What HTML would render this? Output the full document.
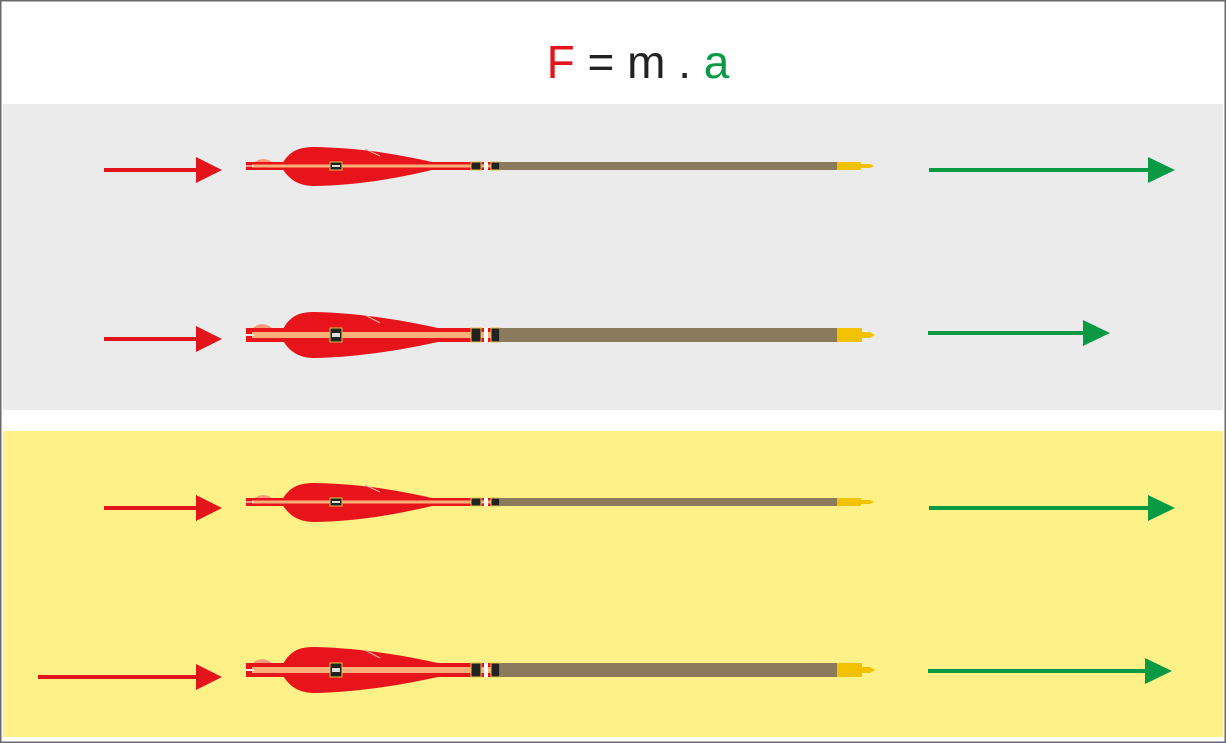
<!DOCTYPE html>
<html><head><meta charset="utf-8"><style>
html,body{margin:0;padding:0;background:#fff}
svg{display:block}
</style></head><body>
<svg width="1226" height="743" viewBox="0 0 1226 743" xmlns="http://www.w3.org/2000/svg">
<rect x="0" y="0" width="1226" height="743" fill="#fff"/>
<rect x="0.5" y="0.5" width="1225" height="742" fill="none" stroke="#6a6a6a" stroke-width="2"/>
<rect x="3" y="104" width="1220" height="306" fill="#ebebeb"/>
<rect x="3" y="431" width="1220" height="306" fill="#fdf188"/>
<text x="638" y="78" text-anchor="middle" font-family="Liberation Sans, sans-serif" font-size="46"><tspan fill="#e3141b">F</tspan><tspan fill="#222"> = m . </tspan><tspan fill="#0a9a44">a</tspan></text>

<defs>
<g id="thin">
  <path d="M282,-2 C290,-16 300,-19 315,-19 C360,-18 400,-12 440,-2 L440,2 C400,12 360,19 315,20 C300,20 290,15 282,2 Z" fill="#e8141b"/>
  <line x1="365" y1="-17" x2="380" y2="-10" stroke="#f7b3a8" stroke-width="1"/>
  <path d="M255,-4 C260,-8 266,-8 272,-4 Z" fill="#f39a7a"/>
  <rect x="246" y="-4" width="254" height="8" fill="#e8141b"/>
  <rect x="252" y="-1.5" width="248" height="3" fill="#f7b07a"/>
  <rect x="246" y="-0.6" width="8" height="1.2" fill="#ebebeb"/>
  <rect x="330" y="-4" width="12" height="8" fill="#222" stroke="#e2c24a" stroke-width="1"/>
  <rect x="332" y="-1" width="8" height="2" fill="#ddd"/>
  <rect x="471" y="-4" width="10" height="8" fill="#222" stroke="#e2c24a" stroke-width="1"/>
  <rect x="484" y="-4" width="4" height="8" fill="#fff"/>
  <rect x="491" y="-4" width="9" height="8" fill="#222" stroke="#e2c24a" stroke-width="1"/>
  <rect x="500" y="-4" width="337" height="8" fill="#8b7a5c"/>
  <rect x="837" y="-4" width="24" height="8" fill="#f2c200"/>
  <path d="M861,-2 L870,-2 L874,0 L870,2 L861,2 Z" fill="#f2c200"/>
</g>
<g id="thick">
  <path d="M282,-4 C290,-20 300,-23 315,-23 C360,-22 410,-14 450,-4 L450,4 C410,14 360,22 315,23 C300,23 290,18 282,4 Z" fill="#e8141b"/>
  <line x1="365" y1="-20" x2="380" y2="-12" stroke="#f7b3a8" stroke-width="1"/>
  <path d="M253,-7 C258,-12 266,-12 272,-7 Z" fill="#f39a7a"/>
  <rect x="246" y="-7" width="254" height="14" fill="#e8141b"/>
  <rect x="252" y="-3" width="248" height="6" fill="#f7b07a"/>
  <rect x="246" y="-1" width="8" height="2" fill="#ebebeb"/>
  <rect x="330" y="-7" width="12" height="14" fill="#222" stroke="#e2c24a" stroke-width="1"/>
  <rect x="332" y="-2" width="8" height="4" fill="#ddd"/>
  <rect x="471" y="-7" width="10" height="14" fill="#222" stroke="#e2c24a" stroke-width="1"/>
  <rect x="484" y="-7" width="4" height="14" fill="#fff"/>
  <rect x="491" y="-7" width="9" height="14" fill="#222" stroke="#e2c24a" stroke-width="1"/>
  <rect x="500" y="-7" width="337" height="14" fill="#8b7a5c"/>
  <rect x="837" y="-7" width="25" height="14" fill="#f2c200"/>
  <path d="M862,-3 L870,-3 L875,0 L870,3 L862,3 Z" fill="#f2c200"/>
</g>
</defs>

<use href="#thin" transform="translate(0,166)"/>
<use href="#thick" transform="translate(0,335)"/>
<use href="#thin" transform="translate(0,502)"/>
<use href="#thick" transform="translate(0,670)"/>

<g fill="#e3141b">
  <rect x="104" y="168" width="94" height="4"/><path d="M196,157 L222,170 L196,183 Z"/>
  <rect x="104" y="337" width="94" height="4"/><path d="M196,326 L222,339 L196,352 Z"/>
  <rect x="104" y="506" width="94" height="4"/><path d="M196,495 L222,508 L196,521 Z"/>
  <rect x="38" y="675" width="160" height="4"/><path d="M196,664 L222,677 L196,690 Z"/>
</g>
<g fill="#0a9a44">
  <rect x="929" y="168" width="222" height="4"/><path d="M1148,157 L1175,170 L1148,183 Z"/>
  <rect x="928" y="331" width="158" height="4"/><path d="M1083,320 L1110,333 L1083,346 Z"/>
  <rect x="929" y="506" width="222" height="4"/><path d="M1148,495 L1175,508 L1148,521 Z"/>
  <rect x="928" y="669" width="220" height="4"/><path d="M1145,658 L1172,671 L1145,684 Z"/>
</g>
</svg>
</body></html>
